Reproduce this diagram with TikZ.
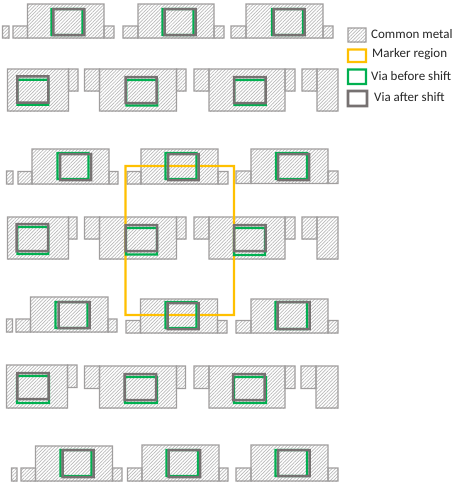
\documentclass[tikz,border=0pt]{standalone}
\usepackage{fontspec}
\setmainfont{Carlito}
\usetikzlibrary{patterns.meta}
\definecolor{metalline}{HTML}{A09E9E}
\definecolor{hatch}{HTML}{BABABA}
\definecolor{viagreen}{HTML}{00B050}
\definecolor{viagray}{HTML}{767171}
\definecolor{marker}{HTML}{FFC000}
\definecolor{legendtext}{HTML}{262626}
\tikzset{
  metalfill/.style={pattern={Lines[angle=45,distance=2.4pt,line width=0.7pt]},pattern color=hatch},
  legendlabel/.style={anchor=west,inner sep=0pt,font=\fontsize{13pt}{15pt}\selectfont,text=legendtext}
}
% frame as a filled ring: colour, half width, corners
\newcommand{\ringbox}[6]{\fill[#1,even odd rule]
  ({#3-#2},{#4-#2}) rectangle ({#5+#2},{#6+#2})
  ({#3+#2},{#4+#2}) rectangle ({#5-#2},{#6-#2});}
\newcommand{\metalr}[4]{\path[metalfill] (#1,#2) rectangle (#3,#4);\ringbox{metalline}{0.6}{#1}{#2}{#3}{#4}}
\begin{document}
\begin{tikzpicture}[x=1pt,y=-1pt]
\useasboundingbox (0,0) rectangle (462,485);
\fill[white] (0,0) rectangle (462,485);

% row 1
\metalr{2.5}{26}{9}{38}
\metalr{13}{26}{27.5}{38}\metalr{104}{26}{114}{38}\metalr{27.5}{4}{104}{38}
\metalr{123}{26}{138}{38}\metalr{214}{26}{224}{38}\metalr{138}{4}{214}{38}
\metalr{231}{26}{246}{38}\metalr{323}{26}{333}{38}\metalr{246}{4}{323}{38}
% row 2
\metalr{68.5}{69}{78}{91}\metalr{7.5}{69}{68.5}{111}
\metalr{84.5}{69}{99.5}{91}\metalr{176.5}{69}{186}{91}\metalr{99.5}{69}{176.5}{111}
\metalr{194}{69}{209}{91}\metalr{285}{69}{295}{91}\metalr{209}{69}{285}{111}
\metalr{302}{69}{317}{91}\metalr{317}{69}{338}{111}
% row 3
\metalr{6.5}{171}{13}{184}
\metalr{18}{171.5}{32}{184}\metalr{109}{171.5}{118}{184}\metalr{32}{149}{109}{184}
\metalr{127}{171.5}{141}{184}\metalr{218}{171.5}{228}{184}\metalr{141}{149}{218}{184}
\metalr{236}{171}{251}{183.5}\metalr{328}{171}{338}{183.5}\metalr{251}{149}{328}{183.5}
% row 4
\metalr{68.5}{217}{77}{239}\metalr{7.5}{217}{68.5}{259}
\metalr{84.5}{217}{99.5}{239}\metalr{176.5}{217}{186}{239}\metalr{99.5}{217}{176.5}{259}
\metalr{194}{217}{209}{239}\metalr{285}{217}{295}{239}\metalr{209}{217}{285}{259}
\metalr{302}{217}{317}{239}\metalr{317}{217}{338}{259}
% row 5
\metalr{6.5}{319}{12.5}{332}
\metalr{16}{319}{30.5}{332}\metalr{108}{319}{117}{332}\metalr{30.5}{297}{108}{332}
\metalr{126}{320.5}{140.5}{333}\metalr{217.5}{320.5}{227}{333}\metalr{140.5}{299}{217.5}{333}
\metalr{236}{320.5}{251}{333}\metalr{328}{320.5}{338}{333}\metalr{251}{299}{328}{333}
% row 6
\metalr{67.5}{365}{77}{387.5}\metalr{6.5}{365}{67.5}{408}
\metalr{84.5}{366}{99.5}{388.5}\metalr{176.5}{366}{185.5}{388.5}\metalr{99.5}{366}{176.5}{408}
\metalr{194}{366}{209}{388.5}\metalr{285}{366}{295}{388.5}\metalr{209}{366}{285}{408}
\metalr{301}{366}{316}{388.5}\metalr{316}{366}{338}{408}
% row 7
\metalr{11.5}{468}{17}{481}
\metalr{21}{468}{35.5}{481}\metalr{112.5}{468}{122}{481}\metalr{35.5}{446}{112.5}{481}
\metalr{127.5}{468}{142}{481}\metalr{219}{468}{228}{481}\metalr{142}{445}{219}{481}
\metalr{236}{468}{251}{481}\metalr{328}{468}{338}{481}\metalr{251}{445}{328}{481}

% marker region
\ringbox{marker}{1.1}{125.5}{166}{234}{315}

% vias before shift
\foreach \a/\b/\c/\d in {
  51.3/9/82.3/35, 162.5/9/193.5/35, 271.8/9/302.8/35,
  17.3/79.7/48.3/104.8, 126.3/80/157.3/105.5, 234.3/80/265.8/105,
  57.5/153/88.5/179, 165.5/153/196.5/179, 276/153/307/179,
  17.3/227/48.3/254, 126/228/157/254.5, 234/228/265/255,
  55.5/302/87.5/328, 165.5/302/196.5/328, 275.5/302/307/329,
  17/376/49/403, 125/377/157/403, 234/377/266/403,
  60.5/450/91.5/476, 166.5/450/198/476, 275.5/450/307/476}
  {\ringbox{viagreen}{1.05}{\a}{\b}{\c}{\d}}
% vias after shift
\foreach \a/\b/\c/\d in {
  53.4/9/84.4/35, 164.7/9/195.7/35, 273.7/9/304.5/35,
  17.3/76.3/48.3/102.7, 125.5/77/156.7/103, 234/77/265.5/103,
  60/154/91/180, 168/154/198.5/180, 278/154/309/180,
  16.5/224/48/251, 125.5/225/157/251, 234/225/265.5/251,
  58.5/302/89.5/328, 167.5/303/198.5/329, 277.5/302/309.5/329,
  17.3/373/48.7/399, 124.7/374/156/400, 233/374/264.5/400,
  62.5/450/93.5/477, 168.5/450/200/477, 278/450/309.5/476}
  {\ringbox{viagray}{1.25}{\a}{\b}{\c}{\d}}

% legend
\metalr{348}{28}{366}{42}
\ringbox{marker}{1.2}{348}{49.5}{366}{62}
\ringbox{viagreen}{1.2}{348}{69.5}{366}{84}
\ringbox{viagray}{1.4}{348}{91}{367}{106}
\node[legendlabel] (lmetal) at (371,34) {Common metal};
\node[legendlabel] (lmarker) at (372,54.5) {Marker region};
\node[legendlabel] (lbefore) at (371,76) {Via before shift};
\node[legendlabel] (lafter) at (374,97) {Via after shift};
\end{tikzpicture}
\end{document}
